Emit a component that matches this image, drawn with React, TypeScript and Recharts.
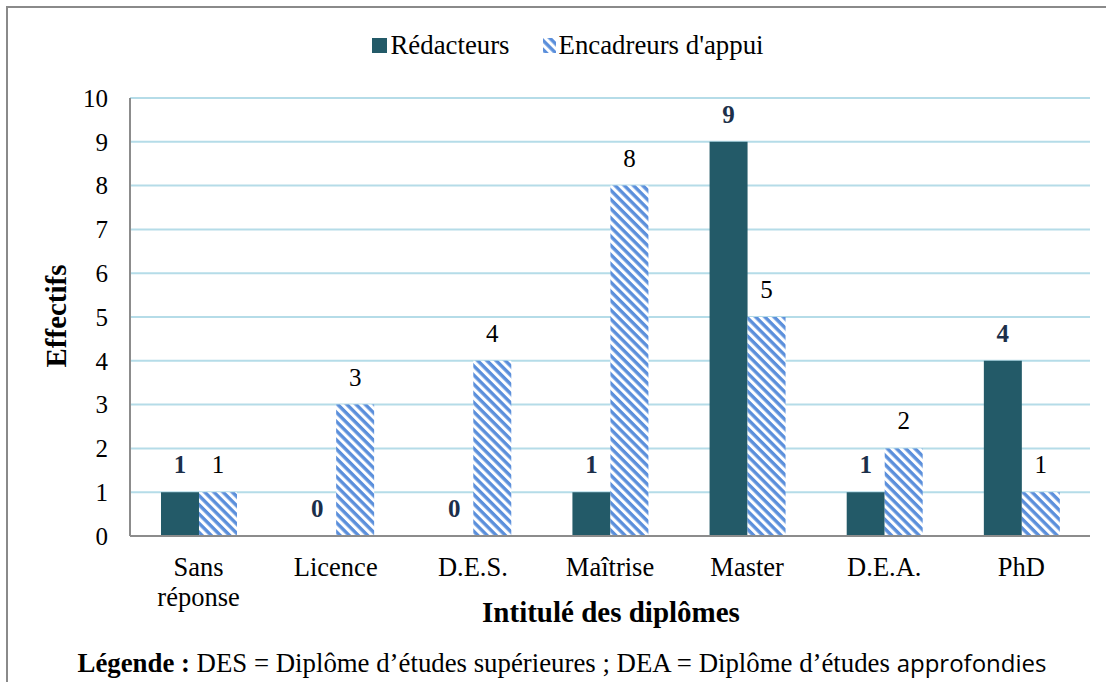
import React from 'react';
import { BarChart, Bar, XAxis, YAxis, CartesianGrid, LabelList, Legend } from 'recharts';

const categories = ['Sans\nréponse', 'Licence', 'D.E.S.', 'Maîtrise', 'Master', 'D.E.A.', 'PhD'];
const redacteurs = [1, 0, 0, 1, 9, 1, 4];
const encadreurs = [1, 3, 4, 8, 5, 2, 1];
const yTicks = [0, 1, 2, 3, 4, 5, 6, 7, 8, 9, 10];

const seriesNames = ['Rédacteurs', "Encadreurs d'appui"];

const data = categories.map((c, i) => ({ name: c, r: redacteurs[i], e: encadreurs[i] }));

const DARK = '#235a68';
const BLUE = '#5b8fdb';
const SERIF = '"Liberation Serif", "Times New Roman", serif';

const XTick = (props: any) => {
  const { x, y, payload } = props;
  const lines = String(payload.value).split('\n');
  return (
    <g transform={`translate(${x},${y})`}>
      {lines.map((l, i) => (
        <text key={i} x={0} y={0} dy={32 + i * 30} textAnchor="middle" fontFamily={SERIF} fontSize={26.5} fill="#000">
          {l}
        </text>
      ))}
    </g>
  );
};

const LegendContent = () => (
  <div style={{ height: 25, paddingLeft: 30, display: 'flex', justifyContent: 'center', alignItems: 'center', fontFamily: SERIF, fontSize: 26.8, color: '#000' }}>
    <svg width={15} height={15} style={{ marginRight: 3 }}>
      <rect width={15} height={15} fill={DARK} />
    </svg>
    <span style={{ marginRight: 33 }}>{seriesNames[0]}</span>
    <svg width={13} height={15} style={{ marginRight: 3 }}>
      <rect width={13} height={15} fill="url(#hatch)" />
    </svg>
    <span>{seriesNames[1]}</span>
  </div>
);

export default function App() {
  return (
    <div style={{ position: 'absolute', left: 0, top: 0, width: 1106, height: 682, background: '#fff', overflow: 'hidden' }}>
      <div style={{ position: 'absolute', left: 6, top: 6, width: 1200, height: 800, border: '2px solid #8a8a8a' }} />
      <BarChart
        width={1106}
        height={682}
        data={data}
        margin={{ top: 73, right: 16, left: 0, bottom: 0 }}
        barCategoryGap="22.6%"
        barGap={0}
        style={{ position: 'absolute', left: 0, top: 0 }}
      >
        <defs>
          <pattern id="hatch" patternUnits="userSpaceOnUse" width={6.5} height={6.5} patternTransform="rotate(45)">
            <rect width={6.5} height={6.5} fill="#ffffff" />
            <rect width={6.5} height={3.4} fill={BLUE} />
          </pattern>
        </defs>
        <CartesianGrid horizontal vertical={false} stroke="#b5dce8" strokeWidth={2} />
        <XAxis
          dataKey="name"
          height={146}
          tick={<XTick />}
          tickLine={false}
          axisLine={{ stroke: '#8c8c8c', strokeWidth: 2 }}
          interval={0}
        />
        <YAxis
          width={130}
          domain={[0, 10]}
          ticks={yTicks}
          interval={0}
          tickLine={false}
          axisLine={{ stroke: '#8c8c8c', strokeWidth: 2 }}
          tickMargin={16}
          tick={{ fontFamily: SERIF, fontSize: 25, fill: '#000' }}
        />
        <Legend
          verticalAlign="top"
          content={<LegendContent />}
          wrapperStyle={{ position: 'absolute', top: 33, left: 0, width: 1106 }}
        />
        <Bar dataKey="r" name={seriesNames[0]} fill={DARK} minPointSize={0.001} isAnimationActive={false}>
          <LabelList dataKey="r" position="top" offset={19} fontFamily={SERIF} fontSize={25} fontWeight="bold" fill="#1c2f4a" />
        </Bar>
        <Bar dataKey="e" name={seriesNames[1]} fill="url(#hatch)" isAnimationActive={false}>
          <LabelList dataKey="e" position="top" offset={19} fontFamily={SERIF} fontSize={25} fill="#000" />
        </Bar>
      </BarChart>
      <div
        style={{
          position: 'absolute', left: 56, top: 316, transform: 'translate(-50%, -50%) rotate(-90deg)',
          fontFamily: SERIF, fontSize: 29, fontWeight: 'bold', whiteSpace: 'nowrap', color: '#000',
        }}
      >
        Effectifs
      </div>
      <div
        style={{
          position: 'absolute', left: 611, top: 612, transform: 'translate(-50%, -50%)',
          fontFamily: SERIF, fontSize: 29, fontWeight: 'bold', whiteSpace: 'nowrap', color: '#000',
        }}
      >
        Intitulé des diplômes
      </div>
      <div
        style={{
          position: 'absolute', left: 562, top: 662, transform: 'translate(-50%, -50%)',
          fontFamily: SERIF, fontSize: 26.8, whiteSpace: 'nowrap', color: '#000',
        }}
      >
        <b>Légende :</b> DES = Diplôme d’études supérieures ; DEA = Diplôme d’études{' '}
        <span style={{ fontFamily: '"Open Sans", "Noto Sans", sans-serif', fontSize: 24 }}>approfondies</span>
      </div>
    </div>
  );
}
